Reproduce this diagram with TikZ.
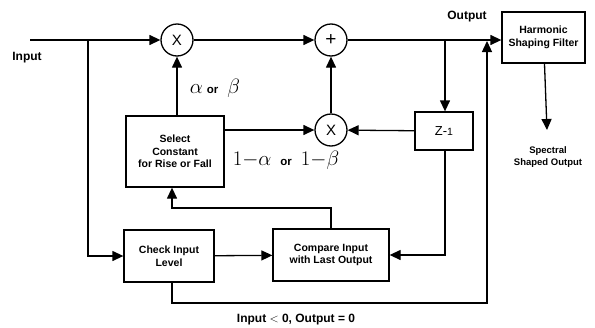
\documentclass[tikz,border=0pt]{standalone}
\usepackage{fontspec}
\setmainfont{Liberation Sans}
\usetikzlibrary{arrows.meta,calc}
\newcommand{\gsz}{\fontsize{20}{20}\selectfont}
\newcommand{\osz}{\fontsize{11.5}{12}\selectfont\bfseries}
\begin{document}
\begin{tikzpicture}[x=1pt,y=-1pt, line width=1.3pt,
  >={Triangle[length=11pt,width=10pt]},
  blk/.style={draw, rectangle, align=center, font=\fontsize{10.5}{12.5}\selectfont\bfseries, inner sep=0pt},
  op/.style={draw, circle, minimum size=32pt, inner sep=0pt, font=\fontsize{15}{15}\selectfont},
  lbl/.style={font=\fontsize{12}{12}\selectfont\bfseries, inner sep=0pt, align=center},
  small/.style={font=\fontsize{9.5}{12.5}\selectfont\bfseries, inner sep=0pt, align=center},
  greek/.style={inner sep=0pt}]
\useasboundingbox (0,0) rectangle (595,327);
% operators
\node[op] (x1) at (177,40) {X};
\node[op, font=\fontsize{19}{19}\selectfont] (pl) at (331,40) {+};
\node[op] (x2) at (331,130) {X};
% blocks
\node[blk, minimum width=98pt, minimum height=71pt] (sel) at (175,151.5) {Select\\Constant\\for Rise or Fall};
\node[blk, minimum width=58pt, minimum height=38pt, font=\fontsize{13}{13}\selectfont] (z) at (444,131) {Z-{\fontsize{10.5}{10}\selectfont 1}};
\node[blk, minimum width=83pt, minimum height=51pt] (hsf) at (543.5,37.5) {Harmonic\\Shaping Filter};
\node[blk, minimum width=90pt, minimum height=52pt] (chk) at (169,256) {Check Input\\Level};
\node[blk, minimum width=116pt, minimum height=52pt] (cmp) at (331,255) {Compare Input\\with Last Output};
% labels
\node[lbl] (lin) at (27,58) {Input};
\node[lbl] (lout) at (467,17) {Output};
\node[small] (lspec) at (548,157) {Spectral\\Shaped Output};
\node[lbl] (lcond) at (296,320) {Input $<$ 0, Output = 0};
\node[greek] (la) at (215,88) {{\gsz$\alpha$}\hspace{4pt}{\osz or}\hspace{9pt}{\gsz$\beta$}};
\node[greek] (lb) at (286,160) {{\gsz$1{-}\alpha$}\hspace{9pt}{\osz or}\hspace{9pt}{\gsz$1{-}\beta$}};
% coordinates
\coordinate (inS) at (30,40);
\coordinate (br) at (88,40);
\coordinate (tap) at (445,40);
\coordinate (selin) at (172,208);
\coordinate (fb) at (487,303);
\coordinate (outj) at (487,41);
\coordinate (spec) at (547,130);
% connectors
\draw[->] (inS) -- (x1);
\draw[->] (br) |- (chk.west);
\draw[->] (x1) -- (pl);
\draw[->] (sel.north -| x1) -- (x1.south);
\draw[->] (sel.east |- x2) -- (x2);
\draw[->] (z) -- (x2);
\draw[->] (x2) -- (pl);
\draw[->] (pl) -- (hsf.west |- pl);
\draw[->] (tap) -- (z.north -| tap);
\draw[->] (z.south -| tap) |- (cmp.east);
\draw[->] (cmp.north) |- (selin) -- (selin |- sel.south);
\draw[->] (chk) -- (cmp);
\draw[->] (chk.south -| selin) |- (fb) -- (outj);
\draw[->] (hsf) -- (spec);
\end{tikzpicture}
\end{document}
